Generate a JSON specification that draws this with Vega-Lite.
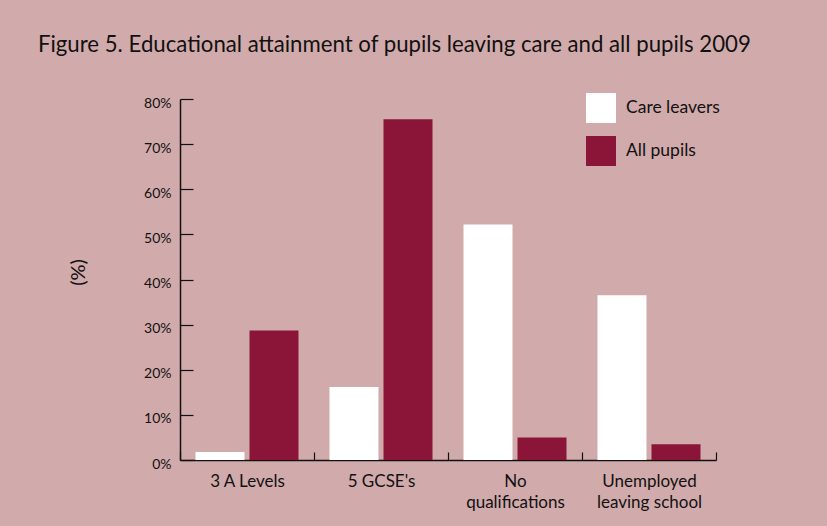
{
  "$schema": "https://vega.github.io/schema/vega-lite/v6.json",
  "width": 536,
  "height": 361,
  "autosize": {"type": "none"},
  "padding": {"left": 180, "top": 99, "right": 111, "bottom": 66},
  "background": "#d1aaab",
  "title": {
    "text": "Figure 5. Educational attainment of pupils leaving care and all pupils 2009",
    "anchor": "start",
    "frame": "group",
    "dx": -142,
    "offset": 37,
    "fontSize": 22.2,
    "font": "Lato",
    "fontWeight": "normal",
    "color": "#111111"
  },
  "data": {
    "values": [
      {"category": "3 A Levels", "group": "Care leavers", "value": 1.8},
      {"category": "3 A Levels", "group": "All pupils", "value": 28.7},
      {"category": "5 GCSE's", "group": "Care leavers", "value": 16.2},
      {"category": "5 GCSE's", "group": "All pupils", "value": 75.5},
      {"category": "No qualifications", "group": "Care leavers", "value": 52.2},
      {"category": "No qualifications", "group": "All pupils", "value": 5.0},
      {"category": "Unemployed leaving school", "group": "Care leavers", "value": 36.5},
      {"category": "Unemployed leaving school", "group": "All pupils", "value": 3.5}
    ]
  },
  "mark": {"type": "bar"},
  "encoding": {
    "x": {
      "field": "category",
      "type": "nominal",
      "sort": ["3 A Levels", "5 GCSE's", "No qualifications", "Unemployed leaving school"],
      "scale": {"paddingInner": 0, "paddingOuter": 0},
      "axis": {
        "title": null,
        "labelAngle": 0,
        "labelFont": "Lato",
        "labelFontSize": 17,
        "labelColor": "#111111",
        "labelBaseline": "middle",
        "labelPadding": 29,
        "labelLineHeight": 21,
        "labelExpr": "datum.value == 'No qualifications' ? ['No', 'qualifications'] : datum.value == 'Unemployed leaving school' ? ['Unemployed', 'leaving school'] : datum.label",
        "tickBand": "extent",
        "tickSize": -8,
        "tickColor": "#111111",
        "domainColor": "#111111",
        "domainWidth": 1.5,
        "tickWidth": 1.2,
        "grid": false
      }
    },
    "xOffset": {
      "field": "group",
      "sort": ["Care leavers", "All pupils"],
      "scale": {"paddingInner": 0.0926, "paddingOuter": 0.287}
    },
    "y": {
      "field": "value",
      "type": "quantitative",
      "scale": {"domain": [0, 80], "nice": false},
      "axis": {
        "title": "(%)",
        "titleFont": "Lato",
        "titleFontSize": 20,
        "titleFontWeight": "normal",
        "titleColor": "#111111",
        "titleX": -92,
        "titleY": 173,
        "values": [0, 10, 20, 30, 40, 50, 60, 70, 80],
        "labelExpr": "datum.value + '%'",
        "labelFont": "Lato",
        "labelFontSize": 14,
        "labelColor": "#111111",
        "labelPadding": 22,
        "labelOffset": 4,
        "tickSize": -13,
        "tickColor": "#111111",
        "tickWidth": 1.2,
        "domainColor": "#111111",
        "domainWidth": 1.5,
        "grid": false
      }
    },
    "color": {
      "field": "group",
      "type": "nominal",
      "scale": {"domain": ["Care leavers", "All pupils"], "range": ["#ffffff", "#8a1538"]},
      "legend": {
        "title": null,
        "orient": "none",
        "legendX": 406,
        "legendY": -6,
        "symbolType": "square",
        "symbolSize": 900,
        "symbolStrokeWidth": 0,
        "symbolOpacity": 1,
        "rowPadding": 13,
        "labelOffset": 10,
        "labelFont": "Lato",
        "labelFontSize": 17.5,
        "labelColor": "#111111"
      }
    }
  },
  "config": {"view": {"stroke": null}}
}
